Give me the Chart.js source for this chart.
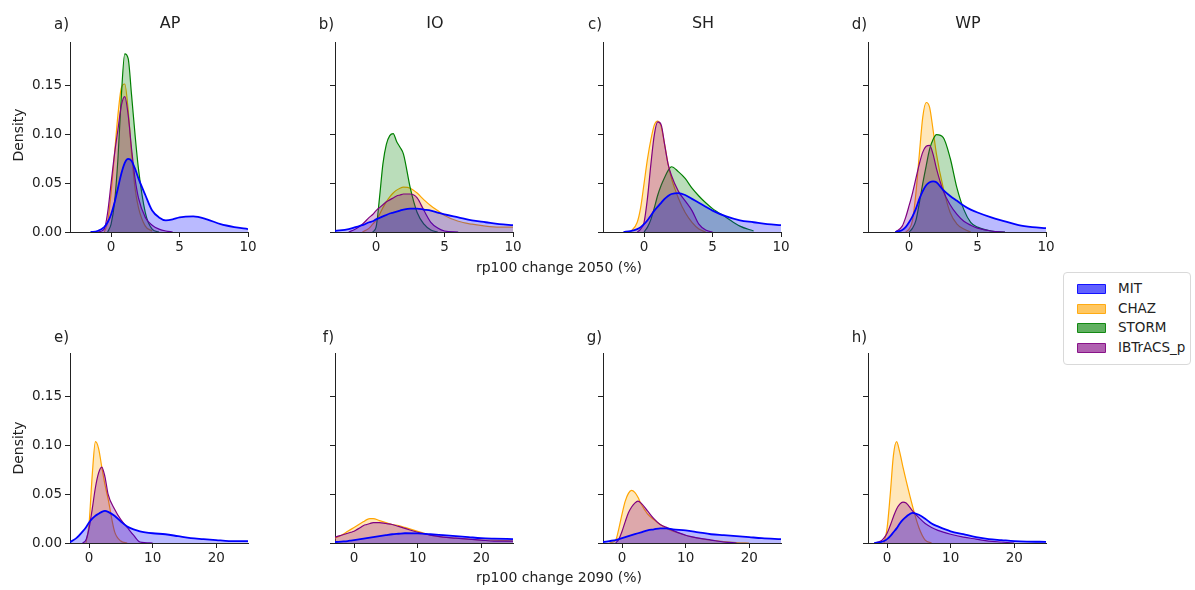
<!DOCTYPE html>
<html>
<head>
<meta charset="utf-8">
<script src="https://cdn.jsdelivr.net/npm/chart.js@4.4.1/dist/chart.umd.min.js"></script>
<style>
  body { margin: 0; background: #fff; }
  #fig { position: relative; width: 1195px; height: 590px; overflow: hidden; font-family: "DejaVu Sans", sans-serif; color: #222; }
  #fig canvas { position: absolute; }
  .txt { position: absolute; white-space: nowrap; line-height: 1; }
  #legend { position: absolute; left: 1063px; top: 272px; width: 126px; height: 91px; border: 1px solid #d9d9d9; border-radius: 4px; background: #fff; }
  .patch { position: absolute; left: 13px; width: 29px; height: 10px; box-sizing: border-box; border: 1px solid; border-radius: 1px; }
  .lg { position: absolute; left: 54px; font-size: 13.5px; line-height: 1; }
</style>
</head>
<body>
<div id="fig"><div id="legend"></div></div>
<script>
// regions and panel tags
const regions = ['AP', 'IO', 'SH', 'WP'];
const tags2050 = ['a)', 'b)', 'c)', 'd)'];
const tags2090 = ['e)', 'f)', 'g)', 'h)'];
const seriesNames = ['MIT', 'CHAZ', 'STORM', 'IBTrACS_p'];

// axis ticks
const yTicks = [0, 0.05, 0.10, 0.15];
const yTickLabels = ['0.00', '0.05', '0.10', '0.15'];
const xTicks2050 = [0, 5, 10];
const xTicks2090 = [0, 10, 20];

// kde evaluation points (rp100 change, %)
const x2050 = [-3, -2, -1.5, -1, -0.5, -0.25, 0, 0.25, 0.5, 0.75, 1, 1.25, 1.5, 1.75, 2, 2.5, 3, 3.5, 4, 4.5, 5, 6, 7, 8, 9, 10];
const x2090 = [-3, -2, -1, -0.5, 0, 0.5, 1, 1.5, 2, 2.5, 3, 4, 5, 6, 7, 8, 10, 12, 14, 16, 18, 20, 22, 25];

// density per region, order AP, IO, SH, WP
const mit2050 = [
  [null,null,0,0.001,0.005,0.01,0.018,0.03,0.045,0.06,0.071,0.075,0.073,0.065,0.055,0.038,0.022,0.015,0.012,0.013,0.015,0.016,0.013,0.008,0.005,0.003],
  [0.001,0.003,0.005,0.007,0.01,0.011,0.013,0.0145,0.016,0.0175,0.019,0.02,0.021,0.022,0.023,0.024,0.024,0.023,0.022,0.02,0.018,0.015,0.012,0.01,0.008,0.007],
  [null,null,0,0.001,0.003,0.005,0.008,0.012,0.017,0.022,0.026,0.03,0.034,0.037,0.039,0.04,0.038,0.034,0.03,0.026,0.022,0.016,0.012,0.01,0.008,0.007],
  [null,null,null,0,0.002,0.005,0.01,0.016,0.024,0.034,0.042,0.048,0.051,0.052,0.051,0.043,0.037,0.032,0.027,0.023,0.02,0.015,0.011,0.007,0.005,0.004]
];
const chaz2050 = [
  [null,null,null,null,0,0.01,0.04,0.08,0.12,0.148,0.152,0.125,0.08,0.045,0.025,0.006,0.001,null,null,null,null,null,null,null,null,null],
  [null,null,null,0,0.004,0.008,0.012,0.018,0.025,0.031,0.036,0.04,0.043,0.045,0.046,0.045,0.04,0.033,0.027,0.022,0.017,0.011,0.008,0.006,0.005,0.005],
  [null,null,null,0,0.01,0.025,0.05,0.075,0.095,0.11,0.114,0.108,0.09,0.07,0.055,0.035,0.02,0.01,0.003,0,null,null,null,null,null,null],
  [null,null,null,null,null,0,0.003,0.012,0.04,0.08,0.118,0.133,0.128,0.105,0.08,0.045,0.02,0.008,0.003,0,null,null,null,null,null,null]
];
const storm2050 = [
  [null,null,null,null,null,0,0.008,0.03,0.075,0.14,0.183,0.178,0.14,0.1,0.065,0.02,0.003,0,null,null,null,null,null,null,null,null],
  [null,null,null,null,null,0,0.005,0.035,0.07,0.09,0.099,0.101,0.093,0.087,0.08,0.045,0.02,0.008,0.002,0,null,null,null,null,null,null],
  [null,null,null,null,null,null,0,0.005,0.013,0.025,0.038,0.048,0.056,0.063,0.067,0.062,0.055,0.045,0.037,0.03,0.024,0.015,0.006,0.001,null,null],
  [null,null,null,null,null,null,0,0.004,0.012,0.03,0.05,0.068,0.085,0.095,0.1,0.097,0.076,0.045,0.023,0.01,0.005,0.001,0,null,null,null]
];
const ibtracs2050 = [
  [null,null,null,0,0.003,0.02,0.05,0.08,0.105,0.13,0.139,0.12,0.085,0.055,0.035,0.015,0.007,0.003,0.001,0,null,null,null,null,null,null],
  [null,0,0.003,0.008,0.015,0.018,0.022,0.025,0.028,0.031,0.033,0.035,0.037,0.038,0.039,0.039,0.035,0.022,0.01,0.004,0.001,0,null,null,null,null],
  [null,null,null,null,0,0.003,0.01,0.035,0.07,0.1,0.113,0.11,0.09,0.07,0.058,0.042,0.032,0.022,0.008,0.002,0,null,null,null,null,null],
  [null,null,null,0,0.006,0.015,0.027,0.04,0.055,0.07,0.082,0.088,0.089,0.08,0.065,0.042,0.028,0.018,0.011,0.007,0.004,0.001,0,null,null,null]
];

const mit2090 = [
  [0.001,0.005,0.012,0.016,0.021,0.025,0.028,0.03,0.032,0.033,0.032,0.028,0.022,0.017,0.014,0.012,0.01,0.009,0.007,0.005,0.004,0.003,0.002,0.002],
  [0.001,0.0015,0.002,0.0025,0.003,0.0035,0.004,0.0045,0.005,0.0055,0.006,0.007,0.008,0.009,0.0095,0.01,0.0098,0.009,0.008,0.007,0.006,0.005,0.0045,0.004],
  [0.001,0.002,0.003,0.004,0.005,0.006,0.007,0.008,0.009,0.01,0.011,0.013,0.014,0.015,0.015,0.014,0.013,0.011,0.009,0.008,0.007,0.006,0.005,0.004],
  [null,0,0.001,0.002,0.004,0.007,0.011,0.015,0.02,0.024,0.027,0.031,0.029,0.025,0.02,0.017,0.012,0.009,0.006,0.004,0.003,0.002,0.0015,0.0012]
];
const chaz2090 = [
  [null,null,null,0,0.02,0.07,0.104,0.097,0.078,0.06,0.045,0.012,0.002,0,null,null,null,null,null,null,null,null,null,null],
  [0.005,0.008,0.012,0.014,0.016,0.018,0.02,0.022,0.024,0.025,0.025,0.023,0.021,0.019,0.018,0.016,0.012,0.008,0.006,0.005,0.004,0.003,0.003,0.002],
  [null,0,0.003,0.015,0.03,0.043,0.051,0.054,0.052,0.047,0.04,0.03,0.024,0.019,0.015,0.012,0.008,0.005,0.003,0.0015,0.0005,0,null,null],
  [null,null,null,0,0.015,0.05,0.09,0.104,0.093,0.078,0.064,0.038,0.016,0.003,0,null,null,null,null,null,null,null,null,null]
];
const ibtracs2090 = [
  [null,null,0,0.003,0.015,0.035,0.057,0.072,0.078,0.068,0.05,0.035,0.024,0.016,0.008,0.001,0,null,null,null,null,null,null,null],
  [0.006,0.008,0.01,0.011,0.012,0.014,0.016,0.018,0.019,0.02,0.021,0.021,0.02,0.019,0.017,0.015,0.011,0.008,0.006,0.005,0.004,0.003,0.002,0.002],
  [null,null,0,0.004,0.012,0.022,0.031,0.037,0.041,0.043,0.041,0.033,0.025,0.019,0.016,0.013,0.008,0.005,0.003,0.001,0,null,null,null],
  [null,0,0.002,0.005,0.01,0.018,0.027,0.035,0.04,0.042,0.041,0.033,0.026,0.02,0.016,0.013,0.009,0.006,0.004,0.002,0.001,0,null,null]
];

// styling
const baseRgb = { 'MIT': [0, 0, 255], 'CHAZ': [255, 165, 0], 'STORM': [0, 128, 0], 'IBTrACS_p': [128, 0, 128] };
const rgba = (c, a) => 'rgba(' + c[0] + ',' + c[1] + ',' + c[2] + ',' + a + ')';
const FONT = 'DejaVu Sans';
const INK = '#222';

const colX = [70, 335, 603, 868];
const rowTop = [37, 348];
const plotW = 178, plotH = 195;
const padL = 50, padT = 6, padR = 16, padB = 28;

const fig = document.getElementById('fig');

function text(str, x, baseline, size, align) {
  const d = document.createElement('div');
  d.className = 'txt';
  d.textContent = str;
  d.style.fontSize = size + 'px';
  d.style.top = (baseline - 0.846 * size) + 'px';
  d.style.left = x + 'px';
  if (align === 'center') d.style.transform = 'translateX(-50%)';
  if (align === 'right') d.style.transform = 'translateX(-100%)';
  fig.appendChild(d);
  return d;
}

function panel(row, col) {
  const late = row === 1;
  const xs = late ? x2090 : x2050;
  const xt = late ? xTicks2090 : xTicks2050;
  const layers = late
    ? [['MIT', mit2090], ['IBTrACS_p', ibtracs2090], ['CHAZ', chaz2090]]
    : [['MIT', mit2050], ['IBTrACS_p', ibtracs2050], ['STORM', storm2050], ['CHAZ', chaz2050]];

  const cv = document.createElement('canvas');
  cv.width = padL + plotW + padR;
  cv.height = padT + plotH + padB;
  cv.style.left = (colX[col] - padL) + 'px';
  cv.style.top = (rowTop[row] - padT) + 'px';
  fig.appendChild(cv);

  const datasets = layers.map(([name, arr]) => ({
    label: name,
    data: xs.map((x, i) => ({ x: x, y: arr[col][i] })).filter(p => p.y !== null),
    borderColor: rgba(baseRgb[name], 1),
    backgroundColor: rgba(baseRgb[name], 0.27),
    borderWidth: name === 'MIT' ? 1.8 : 1.2,
    fill: 'origin',
    pointRadius: 0,
    cubicInterpolationMode: 'monotone'
  }));

  const tickFont = { family: FONT, size: 13.5 };
  new Chart(cv.getContext('2d'), {
    type: 'line',
    data: { datasets: datasets },
    options: {
      responsive: false,
      animation: false,
      devicePixelRatio: 1,
      events: [],
      layout: { padding: { top: padT, right: padR, bottom: 0, left: 0 } },
      plugins: { legend: { display: false }, tooltip: { enabled: false } },
      scales: {
        x: {
          type: 'linear',
          min: -3,
          max: late ? 25 : 10,
          afterBuildTicks: s => { s.ticks = xt.map(v => ({ value: v })); },
          afterFit: s => { s.height = padB; },
          grid: { display: true, drawOnChartArea: false, drawTicks: true, tickLength: 5, color: INK, lineWidth: 1 },
          border: { display: true, color: INK, width: 1 },
          ticks: { font: tickFont, color: INK, padding: 2, maxRotation: 0, autoSkip: false, callback: v => String(v) }
        },
        y: {
          min: 0,
          max: 0.195,
          afterBuildTicks: s => { s.ticks = yTicks.map(v => ({ value: v })); },
          afterFit: s => { s.width = padL; },
          grid: { display: true, drawOnChartArea: false, drawTicks: true, tickLength: 5, color: INK, lineWidth: 1 },
          border: { display: true, color: INK, width: 1 },
          ticks: { font: tickFont, color: INK, padding: 3, autoSkip: false, callback: (v, i) => col === 0 ? yTickLabels[i] : '' }
        }
      }
    }
  });

  // panel tag and region title
  const tags = late ? tags2090 : tags2050;
  text(tags[col], colX[col] - 1, rowTop[row] - (late ? 5 : 7), 15, 'right');
  if (!late) text(regions[col], colX[col] + plotW / 2 + 11, rowTop[row] - 8.7, 16, 'center');
}

for (let r = 0; r < 2; r++) {
  for (let c = 0; c < 4; c++) panel(r, c);
}

// shared axis labels
text('rp100 change 2050 (%)', 559, 272, 14, 'center');
text('rp100 change 2090 (%)', 559, 582, 14, 'center');
[134.5, 447.5].forEach(cy => {
  const d = text('Density', 18, cy, 14, 'left');
  d.style.top = cy + 'px';
  d.style.transform = 'translate(-50%, -50%) rotate(-90deg)';
});

// legend
const legend = document.getElementById('legend');
seriesNames.forEach((name, i) => {
  const cy = 16 + i * 19.5;
  const p = document.createElement('div');
  p.className = 'patch';
  p.style.top = (cy - 5) + 'px';
  p.style.background = rgba(baseRgb[name], 0.62);
  p.style.borderColor = rgba(baseRgb[name], 0.8);
  legend.appendChild(p);
  const t = document.createElement('div');
  t.className = 'lg';
  t.textContent = name;
  t.style.top = (cy - 7) + 'px';
  legend.appendChild(t);
});
</script>
</body>
</html>
